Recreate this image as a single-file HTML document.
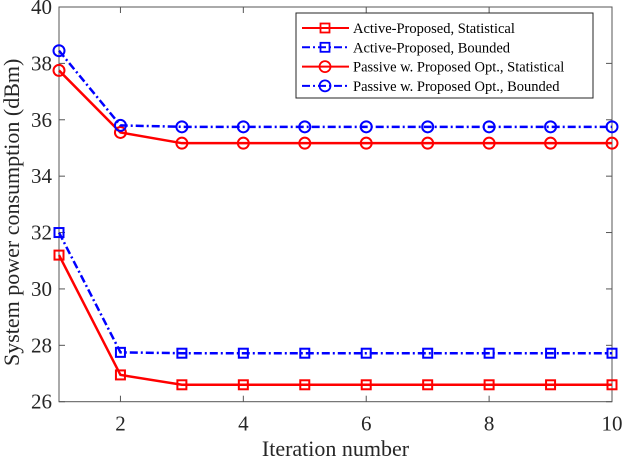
<!DOCTYPE html>
<html><head><meta charset="utf-8"><style>
body{margin:0;background:#fff}
svg{display:block;font-family:"Liberation Serif",serif}
</style></head><body>
<svg id="chart" width="624" height="460" viewBox="0 0 624 460">
<g id="axes"></g>
<g id="series"></g>
<g id="legend"></g>
</svg>
<script>
const iterations=[1,2,3,4,5,6,7,8,9,10];
const activeStatistical=[31.2,26.95,26.6,26.6,26.6,26.6,26.6,26.6,26.6,26.6];
const activeBounded=[32.0,27.75,27.72,27.72,27.72,27.72,27.72,27.72,27.72,27.72];
const passiveStatistical=[37.75,35.55,35.17,35.17,35.17,35.17,35.17,35.17,35.17,35.17];
const passiveBounded=[38.45,35.8,35.75,35.75,35.75,35.75,35.75,35.75,35.75,35.75];
const xTicks=[2,4,6,8,10];
const yTicks=[26,28,30,32,34,36,38,40];
const legendLabels=["Active-Proposed, Statistical","Active-Proposed, Bounded","Passive w. Proposed Opt., Statistical","Passive w. Proposed Opt., Bounded"];

const L=59,R=612,T=7,B=401.7;
const xs=v=>L+(v-1)/(10-1)*(R-L);
const ys=v=>B-(v-26)/(40-26)*(B-T);
const NS="http://www.w3.org/2000/svg";
function mk(tag,attrs,parent){const e=document.createElementNS(NS,tag);for(const k in attrs)e.setAttribute(k,attrs[k]);parent.appendChild(e);return e;}
const ax=document.getElementById('axes'),sg=document.getElementById('series'),lg=document.getElementById('legend');

let frame=mk('rect',{x:L,y:T,width:R-L,height:B-T,fill:'none',stroke:'#555','stroke-width':1},ax);


xTicks.forEach(t=>{
  const x=xs(t);
  mk('line',{x1:x,y1:B,x2:x,y2:B-6,stroke:'#555'},ax);
  mk('line',{x1:x,y1:T,x2:x,y2:T+6,stroke:'#555'},ax);
  const tx=mk('text',{x:x,y:B+29,'text-anchor':'middle','font-size':21,fill:'#262626'},ax);
  tx.textContent=t;
  
  
});
yTicks.forEach(t=>{
  const y=ys(t);
  mk('line',{x1:L,y1:y,x2:L+6,y2:y,stroke:'#555'},ax);
  mk('line',{x1:R,y1:y,x2:R-6,y2:y,stroke:'#555'},ax);
  const tx=mk('text',{x:L-7,y:y+7,'text-anchor':'end','font-size':21,fill:'#262626'},ax);
  tx.textContent=t;
  
  
});
let xt=mk('text',{x:(L+R)/2,y:456,'text-anchor':'middle','font-size':22,fill:'#262626'},ax);
xt.textContent='Iteration number';


let yt=mk('text',{x:0,y:0,'text-anchor':'middle','font-size':22,fill:'#262626',transform:`translate(19,${(T+B)/2+8}) rotate(-90)`},ax);
yt.textContent='System power consumption (dBm)';



const defs=[
 {d:activeStatistical,c:'#ff0000',dash:'',m:'square',n:'active-statistical'},
 {d:activeBounded,c:'#0000ff',dash:'8,3,2,3',m:'square',n:'active-bounded'},
 {d:passiveStatistical,c:'#ff0000',dash:'',m:'circle',n:'passive-statistical'},
 {d:passiveBounded,c:'#0000ff',dash:'8,3,2,3',m:'circle',n:'passive-bounded'}
];
function marker(m,x,y,c,p){
  if(m==='square')return mk('rect',{x:x-4.5,y:y-4.5,width:9,height:9,fill:'none',stroke:c,'stroke-width':2},p);
  return mk('circle',{cx:x,cy:y,r:5.5,fill:'none',stroke:c,'stroke-width':2},p);
}
defs.forEach(s=>{
  const g=mk('g',{},sg);
  
  
  const pts=s.d.map((v,i)=>xs(iterations[i])+','+ys(v)).join(' ');
  const pl=mk('polyline',{points:pts,fill:'none',stroke:s.c,'stroke-width':2.5,'stroke-dasharray':s.dash},g);
  
  
  s.d.forEach((v,i)=>{
    const mm=marker(s.m,xs(iterations[i]),ys(v),s.c,g);
    
    
  });
});

let lb=mk('rect',{x:296,y:13,width:297,height:85,fill:'#fff',stroke:'#262626','stroke-width':1},lg);


defs.forEach((s,i)=>{
  const y=28+i*19.3;
  const g=mk('g',{},lg);
  
  
  mk('line',{x1:302,y1:y,x2:349,y2:y,stroke:s.c,'stroke-width':2,'stroke-dasharray':s.dash},g);
  const lm=marker(s.m,325,y,s.c,g);
  lm.setAttribute('stroke-width',1.8);
  const t=mk('text',{x:353,y:y+5,'font-size':14.5,fill:'#000'},g);
  t.textContent=legendLabels[i];
});
</script>
</body></html>
